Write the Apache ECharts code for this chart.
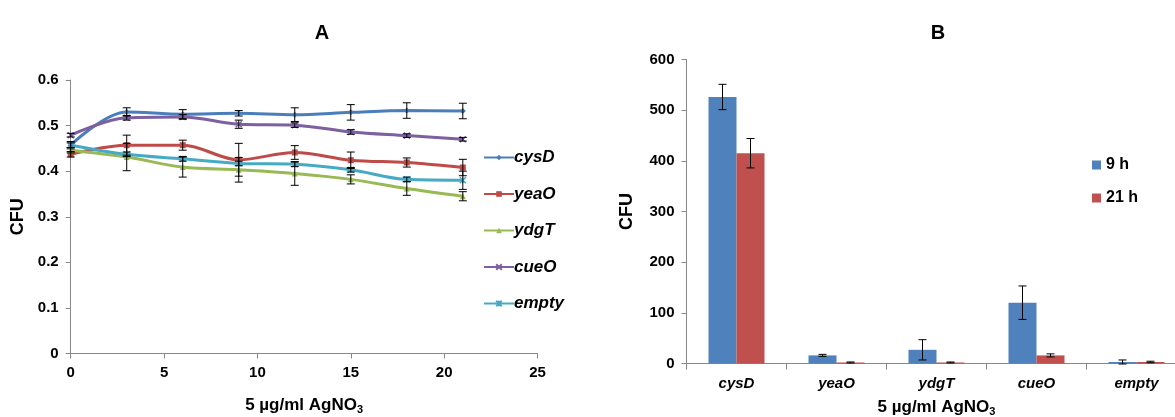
<!DOCTYPE html>
<html><head><meta charset="utf-8">
<script src="https://cdn.jsdelivr.net/npm/echarts@6/dist/echarts.min.js"></script>
<style>html,body{margin:0;padding:0;background:#fff}#c{width:1175px;height:417px}</style>
</head><body><div id="c"></div>
<script>
// ---- Chart A data ----
const doseX = [0, 3, 6, 9, 12, 15, 18, 21];
const seriesNamesA = ['cysD', 'yeaO', 'ydgT', 'cueO', 'empty'];
const cysD  = [0.457, 0.530, 0.525, 0.527, 0.524, 0.529, 0.533, 0.532];
const yeaO  = [0.437, 0.457, 0.457, 0.425, 0.441, 0.424, 0.419, 0.408];
const ydgT  = [0.446, 0.431, 0.409, 0.403, 0.395, 0.382, 0.362, 0.345];
const cueO  = [0.479, 0.517, 0.519, 0.503, 0.501, 0.486, 0.478, 0.470];
const empty = [0.457, 0.437, 0.427, 0.417, 0.415, 0.403, 0.382, 0.380];
const cysDErr  = [0.008, 0.009, 0.010, 0.006, 0.015, 0.017, 0.017, 0.017];
const yeaOErr  = [0.006, 0.022, 0.011, 0.036, 0.015, 0.018, 0.010, 0.018];
const ydgTErr  = [0.006, 0.030, 0.022, 0.027, 0.026, 0.010, 0.015, 0.010];
const cueOErr  = [0.004, 0.005, 0.005, 0.009, 0.005, 0.005, 0.004, 0.004];
const emptyErr = [0.005, 0.005, 0.005, 0.005, 0.005, 0.005, 0.005, 0.020];

// ---- Chart B data ----
const genesB = ['cysD', 'yeaO', 'ydgT', 'cueO', 'empty'];
const h9  = [526, 16, 27, 120, 3];
const h21 = [415, 2, 2, 16, 3];
const h9Err  = [25, 2, 20, 33, 4];
const h21Err = [29, 1, 1, 3, 1.5];

const FONT = 'Liberation Sans, Arial, sans-serif';
const colorsA = ['#4A7EBB', '#BE4B48', '#98B954', '#7D60A0', '#46AAC5'];
const symbolsA = ['diamond', 'rect', 'triangle',
  'path://M0,0L10,10M10,0L0,10', 'path://M0,0L10,10M10,0L0,10M5,0L5,10'];
const sizeA = [6, 6, 6, 6, 6];
const valsA = [cysD, yeaO, ydgT, cueO, empty];
const errsA = [cysDErr, yeaOErr, ydgTErr, cueOErr, emptyErr];

function errRender(offsetPx, cap) {
  return function (params, api) {
    const x = api.value(0), y = api.value(1), e = api.value(2);
    const t = api.coord([x, y + e]);
    const b = api.coord([x, y - e]);
    const cx = t[0] + offsetPx;
    const st = { stroke: '#000', lineWidth: 1 };
    return { type: 'group', children: [
      { type: 'line', shape: { x1: cx, y1: t[1], x2: cx, y2: b[1] }, style: st },
      { type: 'line', shape: { x1: cx - cap, y1: t[1], x2: cx + cap, y2: t[1] }, style: st },
      { type: 'line', shape: { x1: cx - cap, y1: b[1], x2: cx + cap, y2: b[1] }, style: st }
    ]};
  };
}

const axisLine = { lineStyle: { color: '#888888', width: 1 } };
const tickLabel = { color: '#000', fontFamily: FONT, fontWeight: 'bold', fontSize: 15 };
const nameStyle = { color: '#000', fontFamily: FONT, fontWeight: 'bold', fontSize: 17,
  rich: { sub: { color: '#000', fontFamily: FONT, fontWeight: 'bold', fontSize: 11, verticalAlign: 'bottom', padding: [9, 0, 0, 0] } } };

const series = [];
valsA.forEach((v, i) => {
  series.push({
    name: seriesNamesA[i], type: 'line', xAxisIndex: 0, yAxisIndex: 0,
    data: doseX.map((x, k) => [x, v[k]]), smooth: 0.35,
    symbol: symbolsA[i], symbolSize: sizeA[i], z: 3,
    lineStyle: { color: colorsA[i], width: 3 },
    itemStyle: { color: colorsA[i], borderColor: colorsA[i], borderWidth: i >= 3 ? 1.5 : 0 },
  });
});
valsA.forEach((v, i) => {
  series.push({
    type: 'custom', xAxisIndex: 0, yAxisIndex: 0, z: 4,
    data: doseX.map((x, k) => [x, v[k], errsA[i][k]]),
    renderItem: errRender(0, 4), silent: true
  });
});
series.push({
  name: '9 h', type: 'bar', xAxisIndex: 1, yAxisIndex: 1, data: h9,
  barWidth: 28, barGap: '0%', itemStyle: { color: '#4F81BD' }
});
series.push({
  name: '21 h', type: 'bar', xAxisIndex: 1, yAxisIndex: 1, data: h21,
  barWidth: 28, barGap: '0%', itemStyle: { color: '#C0504D' }
});
series.push({
  type: 'custom', xAxisIndex: 1, yAxisIndex: 1, z: 4, silent: true,
  data: h9.map((v, k) => [k, v, h9Err[k]]), renderItem: errRender(-14, 4)
});
series.push({
  type: 'custom', xAxisIndex: 1, yAxisIndex: 1, z: 4, silent: true,
  data: h21.map((v, k) => [k, v, h21Err[k]]), renderItem: errRender(14, 4)
});

const option = {
  animation: false,
  backgroundColor: '#fff',
  title: [
    { text: 'A', left: 317, top: 18, textAlign: 'center',
      textStyle: { fontFamily: FONT, fontWeight: 'bold', fontSize: 20, color: '#000' } },
    { text: 'B', left: 933, top: 18, textAlign: 'center',
      textStyle: { fontFamily: FONT, fontWeight: 'bold', fontSize: 20, color: '#000' } }
  ],
  legend: [
    { data: seriesNamesA, orient: 'vertical', left: 478, top: 144, itemGap: 19.5,
      itemWidth: 30, itemHeight: 7,
      textStyle: { fontFamily: FONT, fontWeight: 'bold', fontStyle: 'italic', fontSize: 17, color: '#000', padding: [0, 0, 0, -5] } },
    { data: ['9 h', '21 h'], orient: 'vertical', left: 1087, top: 152, itemGap: 17,
      itemWidth: 9, itemHeight: 9, icon: 'rect',
      textStyle: { fontFamily: FONT, fontWeight: 'bold', fontSize: 16, color: '#000' } }
  ],
  grid: [
    { left: 70.7, top: 80, width: 466.8, height: 273.5, containLabel: false, outerBoundsMode: 'none' },
    { left: 686.5, top: 59.5, width: 500, height: 304, containLabel: false, outerBoundsMode: 'none' }
  ],
  xAxis: [
    { type: 'value', gridIndex: 0, min: 0, max: 25, interval: 5,
      axisLine: axisLine, axisTick: { show: true, length: 5, lineStyle: { color: '#888' } },
      axisLabel: Object.assign({ margin: 12 }, tickLabel), splitLine: { show: false },
      name: '5 µg/ml AgNO{sub|3}', nameLocation: 'middle', nameGap: 42, nameTextStyle: nameStyle },
    { type: 'category', gridIndex: 1, data: genesB,
      axisLine: axisLine, axisTick: { show: true, length: 6, lineStyle: { color: '#888' } },
      axisLabel: Object.assign({ margin: 13, fontStyle: 'italic' }, tickLabel),
      name: '5 µg/ml AgNO{sub|3}', nameLocation: 'middle', nameGap: 34, nameTextStyle: nameStyle }
  ],
  yAxis: [
    { type: 'value', gridIndex: 0, min: 0, max: 0.6, interval: 0.1,
      axisLine: Object.assign({ show: true }, axisLine),
      axisTick: { show: true, length: 5, lineStyle: { color: '#888' } },
      axisLabel: Object.assign({ margin: 12, formatter: v => (Math.round(v * 10) / 10).toString() }, tickLabel),
      splitLine: { show: false },
      name: 'CFU', nameLocation: 'middle', nameGap: 44, nameRotate: 90,
      nameTextStyle: { color: '#000', fontFamily: FONT, fontWeight: 'bold', fontSize: 18 } },
    { type: 'value', gridIndex: 1, min: 0, max: 600, interval: 100,
      axisLine: Object.assign({ show: true }, axisLine),
      axisTick: { show: true, length: 5, lineStyle: { color: '#888' } },
      axisLabel: Object.assign({ margin: 12 }, tickLabel),
      splitLine: { show: false },
      name: 'CFU', nameLocation: 'middle', nameGap: 50, nameRotate: 90,
      nameTextStyle: { color: '#000', fontFamily: FONT, fontWeight: 'bold', fontSize: 18 } }
  ],
  series: series
};
const chart = echarts.init(document.getElementById('c'), null, { renderer: 'canvas' });
chart.setOption(option);
</script></body></html>
